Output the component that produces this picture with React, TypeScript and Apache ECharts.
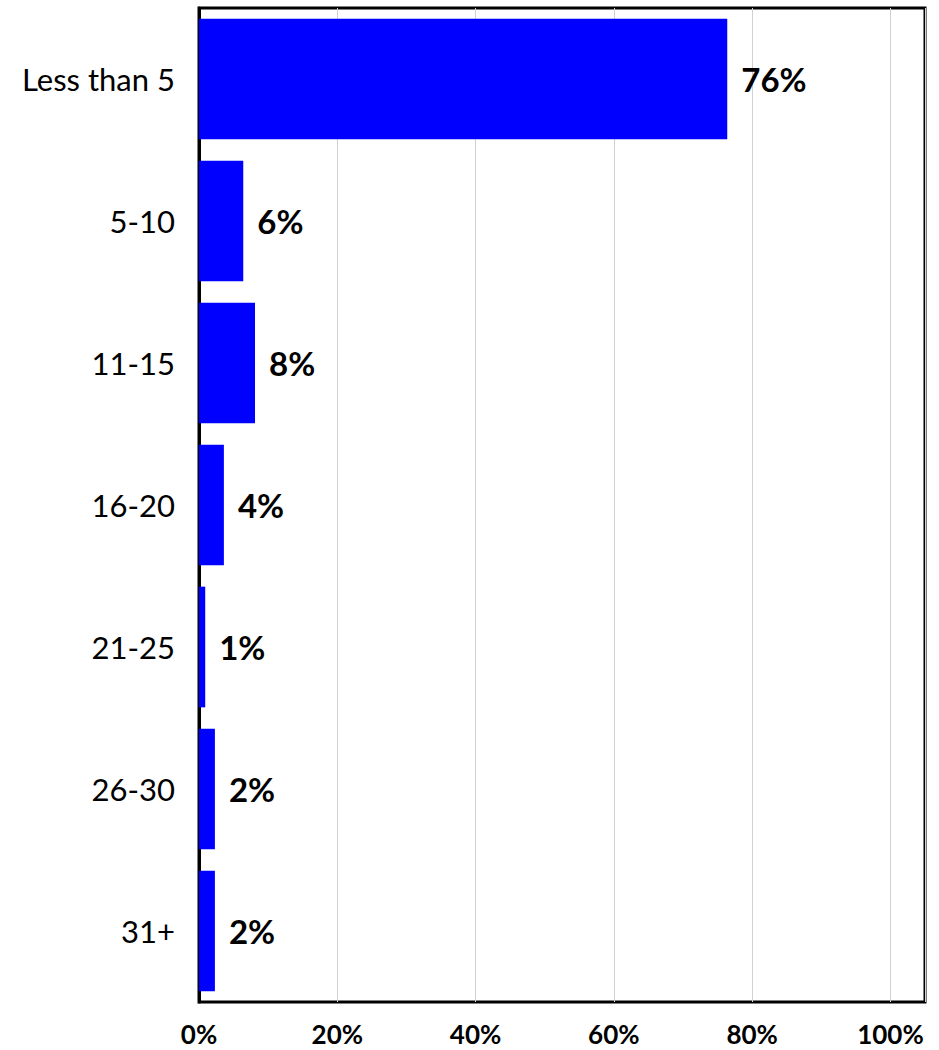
import React, { useEffect, useRef } from "react";
import * as echarts from "echarts";

const categories = ["Less than 5", "5-10", "11-15", "16-20", "21-25", "26-30", "31+"];
const values = [76.4, 6.4, 8.1, 3.6, 0.9, 2.3, 2.3];
const xTicks = [0, 20, 40, 60, 80, 100];

const FONT = "Lato, 'Open Sans', sans-serif";

export default function App() {
  const ref = useRef<HTMLDivElement>(null);
  useEffect(() => {
    if (!ref.current) return;
    const chart = echarts.init(ref.current, null, { renderer: "svg" });
    chart.setOption({
      animation: false,
      backgroundColor: "#fff",
      grid: {
        left: 199,
        right: 14,
        top: 8,
        bottom: 48,
        show: true,
        borderColor: "#000",
        borderWidth: 3,
        containLabel: false,
      },
      xAxis: {
        type: "value",
        min: xTicks[0],
        max: 105,
        interval: 20,
        axisLine: { show: false },
        axisTick: { show: false },
        splitLine: { show: true, lineStyle: { color: "#d0d0d0", width: 1 } },
        axisLabel: {
          showMaxLabel: false,
          formatter: (v: number) => (xTicks.includes(v) ? v + "%" : ""),
          color: "#000",
          fontFamily: FONT,
          fontWeight: "bold",
          fontSize: 26,
          lineHeight: 20,
          margin: 22,
        },
      },
      yAxis: {
        type: "category",
        data: categories,
        inverse: true,
        axisLine: { show: true, lineStyle: { color: "#000", width: 3 } },
        axisTick: { show: false },
        axisLabel: {
          color: "#000",
          fontFamily: FONT,
          fontSize: 31,
          margin: 24,
        },
      },
      series: [
        {
          type: "bar",
          data: values,
          barCategoryGap: "15%",
          itemStyle: { color: "#0000ff" },
          label: {
            show: true,
            position: "right",
            distance: 14,
            formatter: (p: any) => Math.round(p.value) + "%",
            color: "#000",
            fontFamily: FONT,
            fontWeight: "bold",
            fontSize: 33,
          },
        },
      ],
    });
    return () => chart.dispose();
  }, []);
  return (
    <div
      ref={ref}
      style={{ position: "fixed", left: 0, top: 0, width: 939, height: 1050 }}
    />
  );
}
